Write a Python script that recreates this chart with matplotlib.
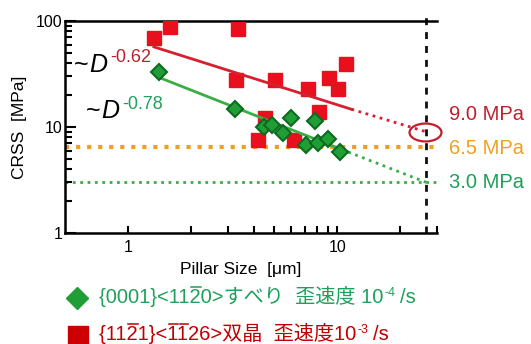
import numpy as np
import matplotlib
matplotlib.use("Agg")
import matplotlib.pyplot as plt
from matplotlib.lines import Line2D
from matplotlib.path import Path
from matplotlib.transforms import Affine2D
from matplotlib.ticker import FixedLocator, NullFormatter

plt.rcParams['font.family'] = ['Liberation Sans', 'DejaVu Sans', 'Noto Sans CJK JP']

# twin (red squares)
red_D = [1.33, 1.59, 3.36, 3.29, 5.06, 7.27, 9.15, 10.1, 11.0, 8.2, 4.52, 4.19, 6.23]
red_tau = [69, 88, 84, 28, 28, 23, 29, 23, 39, 14, 12.2, 7.5, 7.5]
# basal slip (green diamonds)
green_D = [1.41, 3.25, 4.47, 4.89, 6.03, 5.52, 7.86, 7.1, 8.1, 9.06, 10.3]
green_tau = [33, 14.8, 10.0, 10.4, 12.2, 8.8, 11.4, 6.8, 7.1, 7.7, 5.8]

# fitted power laws, read at their end points
red_fit_D = [1.33, 11.7]
red_fit_tau = [57, 14.7]
red_ext_D = [11.7, 26.7]
red_ext_tau = [14.7, 9.0]
green_fit_D = [1.41, 11.3]
green_fit_tau = [29.3, 5.8]
green_ext_D = [11.3, 26.7]
green_ext_tau = [5.8, 3.0]

D_target = 26.7
levels = [9.0, 6.5, 3.0]
level_labels = ['9.0 MPa', '6.5 MPa', '3.0 MPa']

RED = '#e8101c'
RED_LINE = '#d42030'
RED_TXT = '#c0202c'
GREEN = '#1f9e35'
GREEN_EDGE = '#0e6a20'
GREEN_LINE = '#3aae45'
GREEN_TXT = '#1fa05a'
ORANGE = '#f0a020'

W, H = 531, 344
fig = plt.figure(figsize=(W / 100, H / 100), dpi=100)


def px(x, y):
    return x / W, 1 - y / H


ax = fig.add_axes([65 / W, 1 - 233 / H, 372 / W, 212 / H])
ax.set_xscale('log')
ax.set_yscale('log')
ax.set_xlim(0.5, 30)
ax.set_ylim(1, 100)

ax.axhline(6.5, color=ORANGE, lw=3, ls=':', zorder=1)
ax.axhline(3.0, color=GREEN_LINE, lw=2, ls=':', zorder=1)
ax.plot([D_target, D_target], [1, 108], color='#111111', lw=2, ls=(0, (2.5, 2.5)),
        clip_on=False, zorder=2)

ax.plot(red_D, red_tau, 's', color=RED, ms=10, mec=RED, zorder=3)
ax.plot(red_fit_D, red_fit_tau, '-', color=RED_LINE, lw=2, zorder=4)
ax.plot(red_ext_D, red_ext_tau, ':', color=RED_LINE, lw=2, zorder=4)
ax.plot(green_fit_D, green_fit_tau, '-', color=GREEN_LINE, lw=2, zorder=5)
ax.plot(green_ext_D, green_ext_tau, ':', color=GREEN_LINE, lw=2, zorder=5)
ax.plot(green_D, green_tau, 'D', color=GREEN, ms=8, mec=GREEN_EDGE, mew=1.5, zorder=6)

ellipse = Path.unit_circle().transformed(Affine2D().scale(1, 0.56))
ax.plot([D_target * 0.99], [levels[0]], marker=ellipse, ms=23, mfc='none',
        mec=RED_TXT, mew=1.6, clip_on=False, zorder=7)

ax.spines['right'].set_visible(False)
for s in ['top', 'left', 'bottom']:
    ax.spines[s].set_linewidth(1.8)
ax.xaxis.set_major_locator(FixedLocator([1, 10]))
ax.xaxis.set_minor_locator(FixedLocator([2, 3, 4, 5, 6, 7, 8, 9, 20, 30]))
ax.yaxis.set_major_locator(FixedLocator([1, 10, 100]))
ax.yaxis.set_minor_locator(FixedLocator([2, 3, 4, 5, 6, 7, 8, 9, 20, 30, 40, 50, 60, 70, 80, 90]))
ax.set_xticklabels(['1', '10'])
ax.set_yticklabels(['1', '10', '100'])
ax.xaxis.set_minor_formatter(NullFormatter())
ax.yaxis.set_minor_formatter(NullFormatter())
ax.tick_params(which='both', direction='in', top=False, right=False, width=1.5,
               labelsize=11.5)
ax.tick_params(axis='y', which='major', length=8, pad=2)
ax.tick_params(axis='y', which='minor', length=5)
ax.tick_params(axis='x', which='both', length=5, pad=5)

ax.set_xlabel('Pillar Size  [μm]', fontsize=12.5)
ax.xaxis.set_label_coords(0.473, -0.135)
ax.set_ylabel('CRSS  [MPa]', fontsize=12.5, labelpad=6)

# exponent annotations
fig.text(*px(74, 72), '~', fontsize=18, va='baseline')
fig.text(*px(89, 72), 'D', fontsize=18, style='italic', va='baseline')
fig.text(*px(110, 62), '-0.62', fontsize=13, color=RED_TXT, va='baseline')
fig.text(*px(86, 118), '~', fontsize=18, va='baseline')
fig.text(*px(101, 118), 'D', fontsize=18, style='italic', va='baseline')
fig.text(*px(122, 109), '-0.78', fontsize=13, color=GREEN_TXT, va='baseline')

# level labels at right
label_y = [115, 148, 183]
label_c = [RED_TXT, ORANGE, GREEN_TXT]
for t, yy, c in zip(level_labels, label_y, label_c):
    fig.text(*px(449, yy), t, fontsize=14.5, color=c, va='center')

# legend below
renderer = fig.canvas.get_renderer()


def ink_width(s, size):
    tmp = fig.text(0, 0, s, fontsize=size)
    w = tmp.get_window_extent(renderer).width
    tmp.remove()
    return w


def legend_line(x, y, main, bars, sup, tail, color, size=14.5):
    t = fig.text(*px(x, y), main, fontsize=size, color=color, va='baseline')
    bb = t.get_window_extent(renderer)
    ybar = (H - y + 16) / H
    for i in bars:
        x0 = bb.x0 + ink_width(main[:i], size) + 1.5
        x1 = bb.x0 + ink_width(main[:i + 1], size)
        fig.add_artist(Line2D([x0 / W, x1 / W], [ybar, ybar], color=color, lw=1.1,
                              transform=fig.transFigure))
    xs = bb.x1 + 1.5
    s = fig.text(*px(xs, y - 7), sup, fontsize=size * 0.62, color=color, va='baseline')
    xs = s.get_window_extent(renderer).x1 + 4
    fig.text(*px(xs, y), tail, fontsize=size, color=color, va='baseline')


fig.add_artist(Line2D([px(77, 298)[0]], [px(77, 298)[1]], marker='D', ms=11,
                      color=GREEN, mec=GREEN, transform=fig.transFigure))
fig.add_artist(Line2D([px(78, 336)[0]], [px(78, 336)[1]], marker='s', ms=14,
                      color='#cc0000', mec='#cc0000', transform=fig.transFigure))
legend_line(99, 303, '{0001}<1120>すべり  歪速度 10', [9], '-4', '/s', GREEN_TXT)
legend_line(99, 340, '{1121}<1126>双晶  歪速度10', [3, 7, 8], '-3', '/s', '#c00000')

fig.savefig('out.png', dpi=100)
